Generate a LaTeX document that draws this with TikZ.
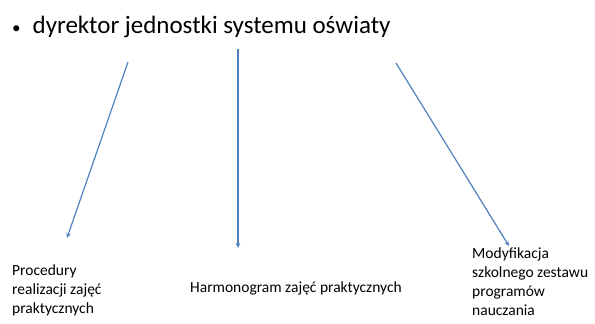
\documentclass[tikz,border=0pt]{standalone}
\usepackage{fontspec}
\setmainfont{Carlito}
\usepackage{xcolor}
\usepackage{tikz}
\usetikzlibrary{positioning,arrows.meta}

\definecolor{officeblue}{RGB}{79,129,189}

\begin{document}
\begin{tikzpicture}[
  x=1pt, y=-1pt, >={Stealth[length=5pt,width=4.5pt]},
  topic/.style={inner sep=0pt, anchor=base west, font=\fontsize{25}{30}\selectfont},
  task/.style={inner sep=0pt, anchor=base west, align=left,
               font=\fontsize{15.5}{18.7}\selectfont},
  arr/.style={->, line width=1.2pt, color=officeblue},
]
\useasboundingbox (0,0) rectangle (595,324);

\node[topic] (dyr) at (12,33) {{\fontsize{17}{17}\selectfont\textbullet}\hspace{12pt}dyrektor jednostki systemu oświaty};

% base of a multi-line node is its last line
\node[task] (proc) at (12,313) {Procedury\\realizacji zajęć\\praktycznych};
\node[task] (harm) at (190,292) {Harmonogram zajęć praktycznych};
\node[task] (mod) at (472,315) {Modyfikacja\\szkolnego zestawu\\programów\\nauczania};

% start and end points of the arrows
\coordinate (a1) at (128,62);  \coordinate (b1) at (67,238);
\coordinate (a2) at (238,49);  \coordinate (b2) at (238,248);
\coordinate (a3) at (396,63);  \coordinate (b3) at (509,246);

\draw[arr] (a1)--(b1); \draw[arr] (a2)--(b2);
\draw[arr] (a3)--(b3);
\end{tikzpicture}
\end{document}
